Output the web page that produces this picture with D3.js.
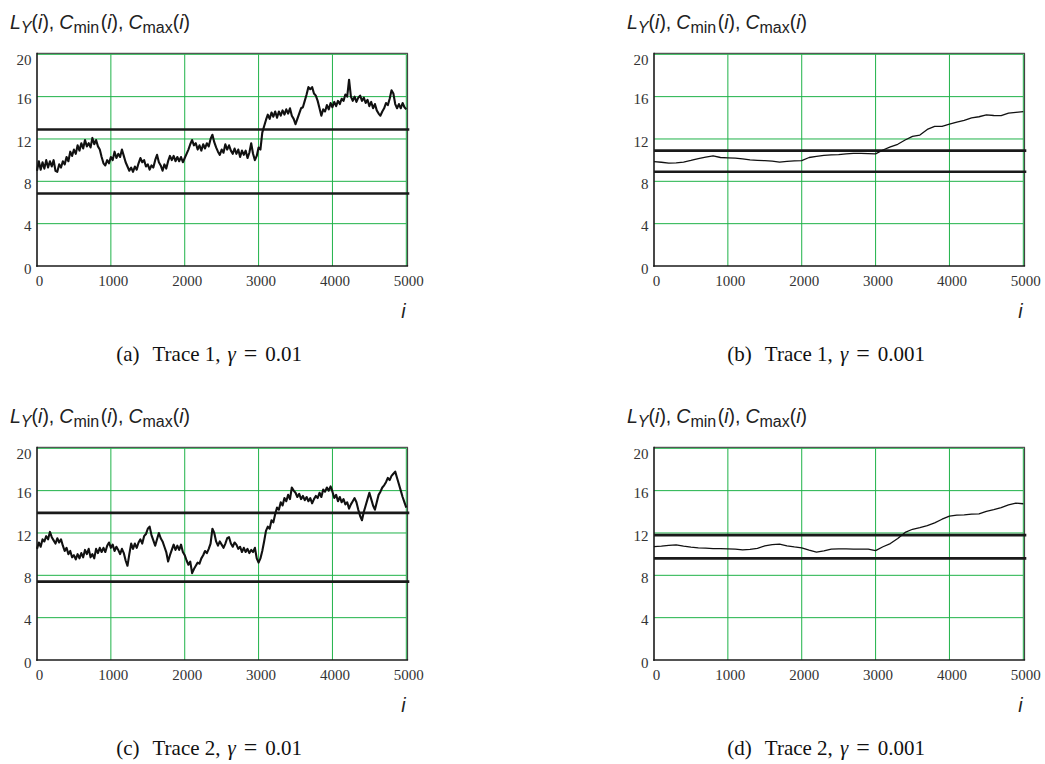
<!DOCTYPE html>
<html>
<head>
<meta charset="utf-8">
<script src="https://cdn.jsdelivr.net/npm/d3@7"></script>
<style>
  html, body { margin: 0; padding: 0; background: #fff; }
  svg { display: block; }
</style>
</head>
<body>
<script>
// ---------------- DATA ----------------
const xTicks = [0, 1000, 2000, 3000, 4000, 5000];
const yTicks = [0, 4, 8, 12, 16, 20];

// noisy traces (gamma = 0.01), sampled every 25 steps of i
const noisyStep = 25;
const traceA = [
  9.0, 9.9, 9.1, 9.8, 9.2, 10.0, 9.3, 9.9, 9.4, 10.0, 9.0, 8.9,
  9.6, 9.3, 9.9, 9.6, 10.3, 9.9, 10.8, 10.4, 11.0, 10.6, 11.4, 10.9,
  11.6, 11.1, 11.9, 11.3, 11.6, 11.2, 12.1, 11.5, 11.9, 11.3, 11.0, 10.3,
  9.7, 9.5, 10.0, 9.7, 10.3, 10.0, 10.8, 10.2, 10.6, 10.3, 11.0, 10.4,
  9.8, 9.4, 9.0, 9.3, 8.9, 9.4, 9.1, 9.7, 10.2, 9.8, 10.0, 9.4,
  9.6, 9.1, 9.5, 9.3, 10.0, 10.5, 9.8, 9.5, 9.0, 9.6, 9.2, 9.9,
  10.4, 10.0, 10.4, 9.9, 10.3, 9.9, 10.3, 9.8, 10.2, 10.6, 11.0, 11.5,
  11.9, 11.4, 11.6, 11.0, 11.4, 10.9, 11.5, 11.1, 11.6, 11.3, 12.0, 12.4,
  11.7, 11.2, 10.8, 10.5, 11.0, 10.7, 11.5, 11.0, 11.4, 10.9, 10.6, 11.1,
  10.6, 11.0, 10.3, 10.9, 10.5, 10.9, 10.2, 10.7, 11.6, 10.6, 10.0, 10.4,
  11.2, 11.0, 12.6, 13.2, 13.8, 14.3, 13.9, 14.5, 14.1, 14.6, 14.0, 14.6,
  14.2, 14.7, 14.3, 14.8, 14.4, 14.9, 14.2, 13.9, 13.4, 13.9, 14.4, 14.9,
  15.0, 15.6, 16.2, 16.9, 16.7, 16.9, 16.3, 16.1, 15.6, 14.9, 14.2, 14.8,
  14.6, 15.2, 14.8, 15.4, 15.0, 15.5, 15.1, 15.6, 15.3, 15.8, 15.6, 16.2,
  16.0, 17.6, 16.0, 15.6, 16.0, 15.5, 15.9, 16.1, 15.6, 15.9, 15.4, 15.7,
  15.1, 15.5, 14.9, 15.3, 14.7, 14.4, 14.2, 14.6, 14.9, 15.4, 15.2, 15.8,
  16.6, 16.3, 15.3, 14.9, 15.3, 14.9, 15.4, 15.0, 14.8
];
const traceC = [
  10.5, 11.1, 10.7, 11.4, 11.2, 11.7, 11.4, 12.1, 11.6, 11.3, 11.0, 11.5,
  11.1, 11.4, 10.8, 10.3, 10.6, 10.0, 10.3, 9.7, 9.9, 9.5, 10.0, 9.6,
  10.1, 9.7, 10.4, 10.0, 10.5, 9.7, 10.0, 9.6, 10.5, 10.1, 10.6, 10.2,
  10.6, 10.2, 10.8, 11.1, 10.6, 10.9, 10.3, 10.7, 10.4, 10.0, 10.5, 10.1,
  9.4, 8.9, 10.0, 11.0, 10.5, 11.0, 10.6, 11.1, 11.4, 11.0, 11.7, 11.9,
  12.4, 12.6, 11.8, 11.3, 10.8, 11.4, 12.0, 11.5, 11.2, 10.7, 10.2, 9.3,
  9.9, 10.4, 10.9, 10.4, 10.8, 10.4, 10.9, 10.2, 9.9, 9.4, 9.0, 9.3,
  8.2, 8.6, 8.9, 9.2, 9.1, 9.6, 9.9, 10.3, 10.1, 10.5, 11.0, 12.4,
  12.0, 11.2, 10.8, 11.2, 10.9, 10.6, 11.0, 11.5, 11.6, 11.0, 10.7, 11.1,
  10.9, 10.5, 10.7, 10.2, 10.6, 10.2, 10.5, 10.1, 10.4, 10.2, 10.6, 9.6,
  9.2, 9.6, 10.3, 11.2, 12.2, 12.6, 12.4, 13.2, 13.0, 13.8, 14.4, 14.2,
  14.9, 14.6, 15.3, 15.0, 15.6, 15.2, 16.3, 16.0, 15.8, 15.4, 15.7, 15.2,
  15.5, 15.1, 15.4, 15.0, 15.3, 14.8, 15.2, 15.5, 15.3, 15.8, 15.4, 16.1,
  15.9, 16.3, 16.0, 16.4, 15.9, 15.3, 15.6, 15.0, 15.4, 14.9, 15.2, 14.7,
  14.9, 14.3, 14.7, 15.0, 15.3, 14.9, 14.2, 13.6, 13.2, 14.0, 14.6, 15.2,
  15.8, 15.2, 14.6, 14.2, 14.9, 15.6, 15.9, 16.3, 16.5, 16.8, 17.2, 17.0,
  17.4, 17.6, 17.8, 17.2, 16.6, 16.0, 15.4, 14.9, 14.4
];

// smooth traces (gamma = 0.001), sampled every 100 steps of i
const smoothStep = 100;
const traceB = [
  9.86, 9.80, 9.72, 9.75, 9.82, 9.97, 10.15, 10.28, 10.40, 10.25,
  10.22, 10.20, 10.12, 10.02, 9.98, 9.95, 9.90, 9.82, 9.88, 9.93,
  9.95, 10.25, 10.35, 10.46, 10.50, 10.52, 10.60, 10.64, 10.64, 10.62,
  10.60, 10.96, 11.25, 11.50, 11.90, 12.25, 12.37, 12.90, 13.20, 13.20,
  13.40, 13.60, 13.75, 14.00, 14.10, 14.27, 14.22, 14.20, 14.45, 14.52,
  14.58
];
const traceD = [
  10.72, 10.75, 10.82, 10.88, 10.75, 10.66, 10.60, 10.56, 10.53, 10.52,
  10.50, 10.48, 10.40, 10.45, 10.55, 10.78, 10.90, 10.94, 10.78, 10.68,
  10.60, 10.38, 10.19, 10.30, 10.47, 10.50, 10.50, 10.47, 10.47, 10.47,
  10.34, 10.70, 11.00, 11.48, 12.05, 12.35, 12.50, 12.70, 12.95, 13.30,
  13.60, 13.68, 13.72, 13.78, 13.80, 14.05, 14.20, 14.40, 14.65, 14.82,
  14.76
];

// threshold levels [Cmin, Cmax]
const cminValues = [6.85, 8.9, 7.4, 9.6];
const cmaxValues = [12.9, 10.9, 13.9, 11.8];

const captionTags = ["(a)", "(b)", "(c)", "(d)"];
const captionTraces = ["1", "1", "2", "2"];
const captionGammas = ["0.01", "0.001", "0.01", "0.001"];

// ---------------- DRAW ----------------
const svg = d3.select("body").append("svg")
  .attr("width", 1045).attr("height", 764);

const GREEN = "#1fb248";
const panels = [
  { trace: traceA, step: noisyStep, left: 37, right: 406.3, top: 54.3, bottom: 266, noisy: true },
  { trace: traceB, step: smoothStep, left: 654, right: 1023.3, top: 54.3, bottom: 266, noisy: false },
  { trace: traceC, step: noisyStep, left: 37, right: 406.3, top: 448.3, bottom: 660, noisy: true },
  { trace: traceD, step: smoothStep, left: 654, right: 1023.3, top: 448.3, bottom: 660, noisy: false }
];

panels.forEach((p, k) => {
  const x = d3.scaleLinear().domain([0, 5000]).range([p.left, p.right]);
  const y = d3.scaleLinear().domain([0, 20]).range([p.bottom, p.top]);
  const g = svg.append("g");

  // grid
  g.selectAll("line.vg").data(xTicks.slice(1)).enter().append("line")
    .attr("x1", d => x(d)).attr("x2", d => x(d))
    .attr("y1", y(0)).attr("y2", y(20))
    .attr("stroke", GREEN).attr("stroke-width", 1);
  g.selectAll("line.hg").data(yTicks.slice(1)).enter().append("line")
    .attr("x1", x(0)).attr("x2", x(5000))
    .attr("y1", d => y(d)).attr("y2", d => y(d))
    .attr("stroke", GREEN).attr("stroke-width", 1);

  // outer frame (top/right dark just outside the green)
  g.append("line").attr("x1", x(0)).attr("x2", x(5000) + 1.6)
    .attr("y1", y(20) - 1).attr("y2", y(20) - 1)
    .attr("stroke", "#333").attr("stroke-width", 1);
  g.append("line").attr("x1", x(5000) + 1.2).attr("x2", x(5000) + 1.2)
    .attr("y1", y(20) - 1).attr("y2", y(0))
    .attr("stroke", "#444").attr("stroke-width", 1.2);

  // axes (left & bottom)
  g.append("line").attr("x1", x(0)).attr("x2", x(0))
    .attr("y1", y(20) - 1.5).attr("y2", y(0) + 0.8)
    .attr("stroke", "#1a1a1a").attr("stroke-width", 1.6);
  g.append("line").attr("x1", x(0) - 0.8).attr("x2", x(5000) + 1.8)
    .attr("y1", y(0)).attr("y2", y(0))
    .attr("stroke", "#1a1a1a").attr("stroke-width", 1.6);

  // tick labels
  g.selectAll("text.yl").data(yTicks).enter().append("text")
    .attr("x", x(0) - 5.5)
    .attr("y", d => y(d) + (d === 20 ? 11 : 7.8))
    .attr("text-anchor", "end")
    .attr("font-family", "'Liberation Serif', 'Times New Roman', serif")
    .attr("font-size", 15).attr("fill", "#333")
    .text(d => d);
  g.selectAll("text.xl").data(xTicks).enter().append("text")
    .attr("x", d => x(d) + 2.5)
    .attr("y", y(0) + 19.7)
    .attr("text-anchor", "middle")
    .attr("font-family", "'Liberation Serif', 'Times New Roman', serif")
    .attr("font-size", 15).attr("fill", "#333")
    .text(d => d);

  // threshold lines
  [cminValues[k], cmaxValues[k]].forEach(v => {
    g.append("line").attr("x1", x(0)).attr("x2", x(5000) + 3)
      .attr("y1", y(v)).attr("y2", y(v))
      .attr("stroke", "#1a1a1a").attr("stroke-width", 2.6);
  });

  // trace
  const line = d3.line()
    .x((d, i) => x(i * p.step))
    .y(d => y(d));
  g.append("path").datum(p.trace)
    .attr("d", line)
    .attr("fill", "none")
    .attr("stroke", "#111")
    .attr("stroke-width", p.noisy ? 2.1 : 1.3)
    .attr("stroke-linejoin", "round");

  // y-axis title
  const t = g.append("text")
    .attr("x", p.left - 27).attr("y", p.top - 25)
    .attr("font-family", "'Liberation Sans', Arial, Helvetica, sans-serif")
    .attr("font-size", 19.5).attr("fill", "#222");
  t.append("tspan").attr("font-style", "italic").text("L");
  t.append("tspan").attr("font-style", "italic").attr("font-size", 16).attr("dy", 4).text("Y");
  t.append("tspan").attr("dy", -4).text("(");
  t.append("tspan").attr("font-style", "italic").text("i");
  t.append("tspan").text("),");
  t.append("tspan").attr("dx", 5).attr("font-style", "italic").text("C");
  t.append("tspan").attr("font-size", 16).attr("dy", 4).text("min");
  t.append("tspan").attr("dy", -4).attr("dx", 1.5).text("(");
  t.append("tspan").attr("font-style", "italic").text("i");
  t.append("tspan").text("),");
  t.append("tspan").attr("dx", 5).attr("font-style", "italic").text("C");
  t.append("tspan").attr("font-size", 16).attr("dy", 4).text("max");
  t.append("tspan").attr("dy", -4).text("(");
  t.append("tspan").attr("font-style", "italic").text("i");
  t.append("tspan").text(")");

  // x-axis title
  g.append("text")
    .attr("x", p.right - 3).attr("y", p.bottom + 52)
    .attr("text-anchor", "middle")
    .attr("font-family", "'Liberation Sans', Arial, Helvetica, sans-serif")
    .attr("font-style", "italic")
    .attr("font-size", 19.5).attr("fill", "#222")
    .text("i");

  // caption
  const c = g.append("text")
    .attr("x", (p.left + p.right) / 2 - 12.5)
    .attr("y", p.bottom + 95.3)
    .attr("text-anchor", "middle")
    .attr("font-family", "'Liberation Serif', 'Times New Roman', serif")
    .attr("font-size", 21).attr("fill", "#111");
  c.append("tspan").text(captionTags[k]);
  c.append("tspan").attr("dx", 13).text("Trace " + captionTraces[k] + ",");
  c.append("tspan").attr("dx", 7).attr("font-style", "italic").text("γ");
  c.append("tspan").attr("dx", 8).attr("font-size", 24).text("=");
  c.append("tspan").attr("dx", 8).text(captionGammas[k]);
});
</script>
</body>
</html>
